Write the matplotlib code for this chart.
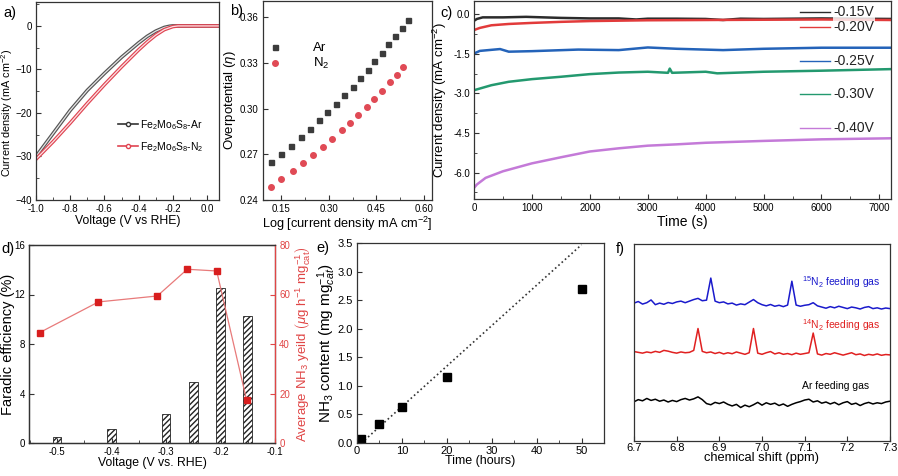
import numpy as np
import matplotlib
matplotlib.use("Agg")
import matplotlib.pyplot as plt
from matplotlib.lines import Line2D
from matplotlib.ticker import MultipleLocator, FormatStrFormatter

plt.rcParams['font.family'] = ['Liberation Sans', 'DejaVu Sans']
plt.rcParams['font.size'] = 8
plt.rcParams['mathtext.fontset'] = 'custom'
plt.rcParams['mathtext.rm'] = 'Liberation Sans'
plt.rcParams['mathtext.it'] = 'Liberation Sans:italic'
plt.rcParams['axes.linewidth'] = 0.9
plt.rcParams['axes.edgecolor'] = '#333333'

# ---- a) LSV curves
v_ar = [-1.0, -0.9, -0.8, -0.7, -0.6, -0.5, -0.4, -0.35, -0.3, -0.25, -0.22, -0.2, 0.07]
j_ar = [-30.0, -24.7, -19.4, -14.8, -10.9, -7.2, -3.9, -2.4, -1.2, -0.35, -0.08, 0.0, 0.0]
v_n2 = [-1.0, -0.9, -0.8, -0.7, -0.6, -0.5, -0.4, -0.35, -0.3, -0.25, -0.2, -0.17, 0.07]
j_n2 = [-30.6, -26.6, -22.3, -17.8, -13.5, -9.4, -5.5, -3.7, -2.1, -0.85, -0.15, 0.0, 0.0]

# ---- b) Tafel
tafel_ar_x = [0.1185, 0.150, 0.1815, 0.213, 0.241, 0.2696, 0.2958, 0.323, 0.349,
              0.3755, 0.3986, 0.4227, 0.4437, 0.4668, 0.4878, 0.5088, 0.5297, 0.5507]
tafel_ar_y = [0.2648, 0.2700, 0.2756, 0.2811, 0.2865, 0.2922, 0.2974, 0.3030, 0.3087,
              0.3143, 0.3198, 0.3252, 0.3309, 0.3363, 0.3420, 0.3474, 0.3528, 0.3583]
tafel_n2_x = [0.1185, 0.150, 0.1867, 0.2203, 0.2518, 0.2832, 0.3116, 0.341,
              0.3671, 0.3934, 0.4196, 0.4437, 0.4689, 0.493, 0.514, 0.535]
tafel_n2_y = [0.2487, 0.2537, 0.2589, 0.2643, 0.2693, 0.2748, 0.2802, 0.2857,
              0.2904, 0.2959, 0.3009, 0.3063, 0.3117, 0.3172, 0.3222, 0.3274]

# ---- c) chronoamperometry
t_015 = [0, 50, 150, 500, 900, 1500, 2000, 2500, 2800, 3000, 3500, 4000, 4300, 4600, 5000, 5500, 6000, 6500, 7200]
j_015 = [-0.25, -0.18, -0.12, -0.12, -0.10, -0.14, -0.16, -0.16, -0.20, -0.17, -0.17, -0.18, -0.22, -0.17, -0.18, -0.17, -0.16, -0.17, -0.18]
t_020 = [0, 100, 300, 600, 1000, 1500, 2000, 3000, 4000, 5000, 6000, 7200]
j_020 = [-0.60, -0.52, -0.42, -0.37, -0.33, -0.29, -0.26, -0.23, -0.22, -0.21, -0.20, -0.22]
t_025 = [0, 100, 450, 600, 1000, 1800, 2500, 3000, 3500, 4300, 5000, 6000, 7200]
j_025 = [-1.49, -1.39, -1.32, -1.42, -1.40, -1.34, -1.36, -1.26, -1.31, -1.36, -1.31, -1.27, -1.27]
t_030 = [0, 300, 600, 1000, 1500, 2000, 2500, 3000, 3350, 3380, 3420, 4000, 4200, 5000, 6000, 7200]
j_030 = [-2.88, -2.69, -2.56, -2.46, -2.37, -2.27, -2.21, -2.18, -2.22, -2.06, -2.22, -2.18, -2.24, -2.18, -2.14, -2.08]
t_040 = [0, 50, 200, 500, 1000, 1500, 2000, 2500, 3000, 3500, 4000, 5000, 6000, 7200]
j_040 = [-6.58, -6.45, -6.20, -5.95, -5.65, -5.42, -5.20, -5.08, -4.98, -4.93, -4.87, -4.80, -4.74, -4.70]

# ---- d) FE and yield
fe_v = [-0.5, -0.4, -0.3, -0.25, -0.2, -0.15]
fe_val = [0.48, 1.13, 2.34, 4.92, 12.5, 10.27]
yield_v = [-0.532, -0.424, -0.316, -0.261, -0.207, -0.152]
yield_val = [44.6, 57.0, 59.4, 70.2, 69.5, 17.2]

# ---- e) NH3 content
e_time = [1, 5, 10, 20, 50]
e_nh3 = [0.07, 0.34, 0.63, 1.16, 2.70]
fit_time = [1, 50]
fit_nh3 = [0.0, 3.47]

# ---- f) NMR
ppm = np.round(np.arange(6.70, 7.3001, 0.01), 2)
nmr_15n2 = [70.0, 70.8, 69.5, 70.2, 71.6, 69.2, 70.0, 69.4, 70.3, 69.8,
            70.6, 71.0, 70.2, 71.0, 71.8, 72.4, 71.2, 71.5, 82.7, 71.0,
            70.2, 70.6, 69.6, 70.0, 69.0, 69.6, 69.2, 70.5, 71.8, 70.2,
            69.2, 68.6, 69.3, 68.4, 68.9, 68.2, 69.0, 81.1, 69.0, 68.4,
            68.9, 69.2, 70.2, 68.6, 68.0, 67.4, 68.2, 67.6, 68.4, 67.8,
            67.2, 68.0, 67.6, 67.0, 67.8, 68.2, 67.2, 67.6, 67.0, 67.5, 67.2]
nmr_14n2 = [45.4, 45.0, 44.6, 45.2, 44.8, 45.5, 45.0, 46.0, 45.6, 45.0,
            44.6, 45.2, 44.8, 45.0, 46.0, 57.1, 45.5, 44.8, 45.2, 44.4,
            45.0, 44.2, 44.8, 44.3, 45.2, 44.6, 44.0, 44.8, 57.1, 44.6,
            44.0, 44.8, 45.4, 44.2, 44.8, 44.0, 44.4, 43.8, 44.6, 44.0,
            44.4, 44.8, 54.8, 44.2, 43.6, 44.4, 44.0, 44.8, 44.2, 43.6,
            44.2, 44.8, 43.8, 44.2, 43.4, 44.0, 43.6, 44.2, 43.5, 43.9, 43.7]
nmr_ar = [19.9, 21.0, 20.4, 21.6, 20.6, 21.2, 20.2, 20.8, 19.8, 20.6,
          20.0, 21.0, 21.6, 20.8, 21.4, 22.4, 21.0, 19.0, 18.4, 19.6,
          19.0, 19.8, 18.6, 17.8, 18.6, 17.0, 18.2, 17.4, 18.4, 19.6,
          18.2, 19.4, 18.6, 19.2, 18.0, 18.8, 17.6, 18.6, 19.4, 20.0,
          20.8, 21.2, 19.8, 20.4, 19.2, 19.8, 18.8, 19.6, 18.4, 19.4,
          20.0, 18.6, 19.2, 18.0, 19.0, 19.6, 18.8, 19.4, 19.0, 19.8, 20.2]

W, H = 898, 476
fig = plt.figure(figsize=(W / 100, H / 100), dpi=100)


def add_ax(x0, y0, x1, y1, tick_size=7):
    ax = fig.add_axes([x0 / W, 1 - y1 / H, (x1 - x0) / W, (y1 - y0) / H])
    ax.tick_params(direction='in', which='both', labelsize=tick_size, pad=3, color='#333333')
    ax.tick_params(which='major', length=3.5)
    ax.tick_params(which='minor', length=2)
    return ax


def panel_label(x, y, s):
    fig.text(x / W, 1 - y / H, s, fontsize=10.5, va='center', ha='left')


# a)
ax = add_ax(36, 2, 219, 200)
for v, j, c in [(v_ar, j_ar, '#555555'), (v_n2, j_n2, '#e04452')]:
    ax.plot(v, j, color=c, lw=2.6)
    ax.plot(v, j, color='white', lw=0.9, alpha=0.85)
ax.set_xlim(-1.0, 0.07)
ax.set_ylim(-40, 5.5)
ax.xaxis.set_major_locator(MultipleLocator(0.2))
ax.xaxis.set_minor_locator(MultipleLocator(0.1))
ax.yaxis.set_major_locator(MultipleLocator(10))
ax.yaxis.set_minor_locator(MultipleLocator(5))
ax.xaxis.set_major_formatter(FormatStrFormatter('%.1f'))
ax.set_xlabel('Voltage (V vs RHE)', fontsize=8.8)
ax.set_ylabel(r'Current density (mA cm$^{-2}$)', fontsize=7.8)
ax.xaxis.set_label_coords(0.5, -0.075)
ax.yaxis.set_label_coords(-0.113, 0.44)
handles = [Line2D([], [], color='#333333', lw=1.2, marker='o', ms=3, mfc='white'),
           Line2D([], [], color='#e04452', lw=1.2, marker='o', ms=3, mfc='white')]
ax.legend(handles, [r'Fe$_2$Mo$_6$S$_8$-Ar', r'Fe$_2$Mo$_6$S$_8$-N$_2$'],
          loc='upper left', bbox_to_anchor=(0.448, 0.415), frameon=False,
          fontsize=7.5, handlelength=1.9, handletextpad=0.2, labelspacing=0.8,
          borderaxespad=0, borderpad=0)
panel_label(3, 13, 'a)')

# b)
ax = add_ax(263, 1, 432, 200)
ax.plot(tafel_ar_x, tafel_ar_y, 's', color='#3c3c3c', ms=3.6, label='Ar')
ax.plot(tafel_n2_x, tafel_n2_y, 'o', color='#e04a55', ms=4, label=r'N$_2$')
ax.set_xlim(0.093, 0.625)
ax.set_ylim(0.24, 0.3705)
ax.xaxis.set_major_locator(MultipleLocator(0.15))
ax.xaxis.set_minor_locator(MultipleLocator(0.075))
ax.yaxis.set_major_locator(MultipleLocator(0.03))
ax.xaxis.set_major_formatter(FormatStrFormatter('%.2f'))
ax.yaxis.set_major_formatter(FormatStrFormatter('%.2f'))
ax.set_xlabel(r'Log [current density mA cm$^{-2}$]', fontsize=9.2)
ax.set_ylabel(r'Overpotential ($\eta$)', fontsize=9.5)
ax.xaxis.set_label_coords(0.5, -0.075)
ax.yaxis.set_label_coords(-0.148, 0.5)
ax.legend(loc='upper left', bbox_to_anchor=(0.0, 0.82), frameon=False, fontsize=9.5,
          handletextpad=2.4, labelspacing=0.15, handlelength=1.0, borderaxespad=0)
panel_label(230, 11, 'b)')

# c)
ax = add_ax(474, 1, 891, 199)
c_series = [(t_015, j_015, '#2b2b2b', '-0.15V'), (t_020, j_020, '#e23b3b', '-0.20V'),
            (t_025, j_025, '#2463b9', '-0.25V'), (t_030, j_030, '#23996f', '-0.30V'),
            (t_040, j_040, '#c47ad8', '-0.40V')]
leg_y = [0.944, 0.869, 0.697, 0.530, 0.359]
for (t, j, c, lab), ly in zip(c_series, leg_y):
    ax.plot(t, j, color=c, lw=1.8)
    ax.plot([0.782, 0.854], [ly, ly], color=c, lw=1.0, transform=ax.transAxes)
    ax.text(0.862, ly, lab, color='#222222', fontsize=10, va='center', ha='left',
            transform=ax.transAxes,
            bbox=dict(facecolor='white', edgecolor='none', pad=0.3, alpha=0.8))
ax.set_xlim(0, 7200)
ax.set_ylim(-7.0, 0.5)
ax.xaxis.set_major_locator(MultipleLocator(1000))
ax.xaxis.set_minor_locator(MultipleLocator(500))
ax.yaxis.set_major_locator(MultipleLocator(1.5))
ax.yaxis.set_minor_locator(MultipleLocator(0.75))
ax.yaxis.set_major_formatter(FormatStrFormatter('%.1f'))
ax.set_xlabel('Time (s)', fontsize=10)
ax.set_ylabel(r'Current density (mA cm$^{-2}$)', fontsize=9.5)
ax.xaxis.set_label_coords(0.5, -0.08)
ax.yaxis.set_label_coords(-0.06, 0.5)
panel_label(440, 13, 'c)')

# d)
ax = add_ax(29, 245, 275, 443)
ax.bar(fe_v, fe_val, width=0.016, color='white', edgecolor='#222222', hatch='//////', lw=0.6)
ax.set_xlim(-0.5514, -0.1)
ax.set_ylim(0, 16)
ax.xaxis.set_major_locator(MultipleLocator(0.1))
ax.xaxis.set_minor_locator(MultipleLocator(0.05))
ax.yaxis.set_major_locator(MultipleLocator(4))
ax.xaxis.set_major_formatter(FormatStrFormatter('%.1f'))
ax.set_xlabel('Voltage (V vs. RHE)', fontsize=8.8)
ax.set_ylabel('Faradic efficiency (%)', fontsize=10.5)
ax.xaxis.set_label_coords(0.5, -0.07)
ax.yaxis.set_label_coords(-0.058, 0.5)
ax2 = ax.twinx()
ax2.plot(yield_v, yield_val, '-s', color='#e87a7a', mfc='#d81e1e', mec='#d81e1e', ms=4.5, lw=0.9)
ax2.set_ylim(0, 80)
ax2.yaxis.set_major_locator(MultipleLocator(20))
ax2.tick_params(direction='in', which='both', labelsize=7, pad=3, colors='#e04545', length=3.5)
ax2.spines['right'].set_color('#e04545')
ax2.set_ylabel(r'Average NH$_3$ yeild $\left(\mu\mathrm{g\ h^{-1}\ mg_{cat}^{-1}}\right)$',
               fontsize=9.5, color='#e04545')
ax2.yaxis.set_label_coords(1.073, 0.5)
panel_label(1, 249, 'd)')

# e)
ax = add_ax(357, 243, 604, 443, tick_size=8)
ax.plot(fit_time, fit_nh3, ':', color='#333333', lw=1.2)
ax.plot(e_time, e_nh3, 's', color='black', ms=6)
ax.set_xlim(0, 55)
ax.set_ylim(0, 3.5)
ax.xaxis.set_major_locator(MultipleLocator(10))
ax.xaxis.set_minor_locator(MultipleLocator(5))
ax.yaxis.set_major_locator(MultipleLocator(0.5))
ax.yaxis.set_major_formatter(FormatStrFormatter('%.1f'))
ax.tick_params(axis='x', pad=2)
ax.set_xlabel('Time (hours)', fontsize=9)
ax.set_ylabel(r'NH$_3$ content (mg mg$_{cat}^{-1}$)', fontsize=11)
ax.xaxis.set_label_coords(0.5, -0.058)
ax.yaxis.set_label_coords(-0.075, 0.5)
panel_label(316, 248, 'e)')

# f)
ax = add_ax(634, 244, 890, 441, tick_size=8)
ax.plot(ppm, nmr_15n2, color='#1a1acc', lw=1.1)
ax.plot(ppm, nmr_14n2, color='#e02020', lw=1.1)
ax.plot(ppm, nmr_ar, color='black', lw=1.1)
ax.text(0.655, 0.805, r'$^{15}$N$_2$ feeding gas', color='#1a1acc', fontsize=7.5,
        transform=ax.transAxes, va='center')
ax.text(0.655, 0.59, r'$^{14}$N$_2$ feeding gas', color='#e02020', fontsize=7.5,
        transform=ax.transAxes, va='center')
ax.text(0.655, 0.28, 'Ar feeding gas', color='black', fontsize=7.5,
        transform=ax.transAxes, va='center')
ax.set_xlim(6.7, 7.3)
ax.set_ylim(0, 100)
ax.set_yticks([])
ax.xaxis.set_major_locator(MultipleLocator(0.1))
ax.xaxis.set_major_formatter(FormatStrFormatter('%.1f'))
ax.tick_params(axis='x', pad=1.5)
ax.set_xlabel('chemical shift (ppm)', fontsize=9.3)
ax.xaxis.set_label_coords(0.5, -0.058)
panel_label(616, 249, 'f)')

fig.savefig('out.png', dpi=100)
